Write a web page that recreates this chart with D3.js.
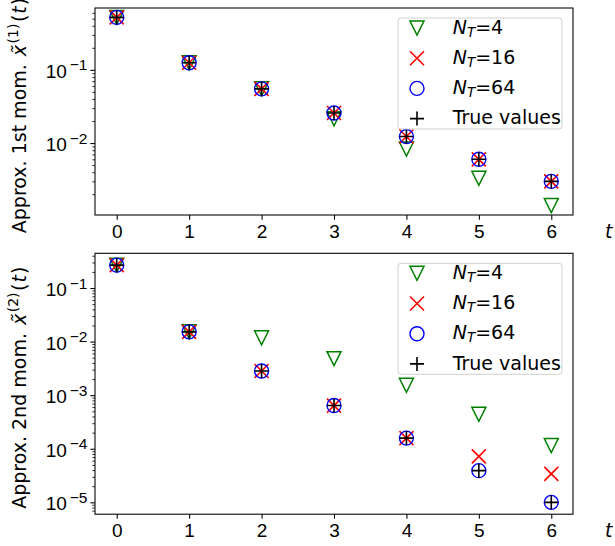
<!DOCTYPE html>
<html>
<head>
<meta charset="utf-8">
<script src="https://cdn.jsdelivr.net/npm/d3@7"></script>
<style>
  body { margin: 0; background: #fff; }
  svg { display: block; font-family: 'DejaVu Sans', sans-serif; }
  .tick line { stroke: #000; }
  .domain { display: none; }
</style>
</head>
<body>
<svg id="chart" width="615" height="546"></svg>
<script>
// Data
var times = [0, 1, 2, 3, 4, 5, 6];
var xTicks = [0, 1, 2, 3, 4, 5, 6];

// 1st moment
var nt4First = [0.52, 0.125, 0.055, 0.0215, 0.0083, 0.0033, 0.0014];
var nt16First = [0.52, 0.125, 0.055, 0.0257, 0.0123, 0.006, 0.003];
var nt64First = [0.52, 0.125, 0.055, 0.0257, 0.0123, 0.006, 0.003];
var trueFirst = [0.52, 0.125, 0.055, 0.0257, 0.0123, 0.006, 0.003];
var yTicksFirst = [1e-2, 1e-1];

// 2nd moment
var nt4Second = [0.267, 0.0152, 0.0118, 0.0048, 0.00153, 4.4e-4, 1.15e-4];
var nt16Second = [0.267, 0.0152, 0.00283, 6.4e-4, 1.58e-4, 7.2e-5, 3.4e-5];
var nt64Second = [0.267, 0.0152, 0.00283, 6.4e-4, 1.58e-4, 3.9e-5, 1.0e-5];
var trueSecond = [0.267, 0.0152, 0.00283, 6.4e-4, 1.58e-4, 3.9e-5, 1.0e-5];
var yTicksSecond = [1e-5, 1e-4, 1e-3, 1e-2, 1e-1];

var seriesNames = ['4', '16', '64', 'True values'];

var svg = d3.select('#chart');
var fontSize = 19;
var markerSize = 7;

// marker drawing
function drawMarker (g, kind) {
  var s = markerSize;
  if (kind === 'tri') {
    g.append('path')
      .attr('d', 'M' + (-s) + ',' + (-s) + 'L' + s + ',' + (-s) + 'L0,' + s + 'Z')
      .attr('fill', 'none').attr('stroke', '#008000').attr('stroke-width', 1.5);
  } else if (kind === 'x') {
    g.append('path')
      .attr('d', 'M' + (-s) + ',' + (-s) + 'L' + s + ',' + s + 'M' + (-s) + ',' + s + 'L' + s + ',' + (-s))
      .attr('fill', 'none').attr('stroke', '#ff0000').attr('stroke-width', 1.6);
  } else if (kind === 'circle') {
    g.append('circle').attr('r', s)
      .attr('fill', 'none').attr('stroke', '#0000ff').attr('stroke-width', 1.4);
  } else {
    g.append('path')
      .attr('d', 'M' + (-s) + ',0L' + s + ',0M0,' + (-s) + 'L0,' + s)
      .attr('fill', 'none').attr('stroke', '#000').attr('stroke-width', 1.6);
  }
}

function logDomain (arrays) {
  var all = d3.merge(arrays);
  var lo = Math.log10(d3.min(all));
  var hi = Math.log10(d3.max(all));
  var pad = (hi - lo) * 0.05;
  return [Math.pow(10, lo - pad), Math.pow(10, hi + pad)];
}

function supLabel (sel, v) {
  var e = Math.round(Math.log10(v));
  sel.text(null);
  sel.append('tspan').text('10');
  sel.append('tspan').attr('dx', 3).attr('dy', -7.5).attr('font-size', 15.5).text('\u2212' + Math.abs(e));
}

function panel (opts) {
  var x = d3.scaleLinear().domain([-0.3, 6.3]).range([opts.left, opts.right]);
  var y = d3.scaleLog().domain(logDomain(opts.series)).range([opts.bottom, opts.top]);

  var g = svg.append('g');

  // minor ticks
  var dom = y.domain();
  var minor = [];
  for (var p = Math.floor(Math.log10(dom[0])); p <= Math.ceil(Math.log10(dom[1])); p++) {
    for (var m = 2; m <= 9; m++) {
      var v = m * Math.pow(10, p);
      if (v >= dom[0] && v <= dom[1]) minor.push(v);
    }
  }
  g.append('g')
    .attr('transform', 'translate(' + opts.left + ',0)')
    .call(d3.axisLeft(y).tickValues(minor).tickSize(2.67).tickFormat(''))
    .selectAll('line').attr('stroke-width', 0.8);

  var ya = g.append('g')
    .attr('transform', 'translate(' + opts.left + ',0)')
    .call(d3.axisLeft(y).tickValues(opts.yTicks).tickSize(4.67).tickPadding(4));
  ya.selectAll('line').attr('stroke-width', 1.07);
  ya.selectAll('text')
    .attr('font-size', fontSize).attr('fill', '#000')
    .attr('dy', 7.5).attr('x', -7.5)
    .each(function (d) { supLabel(d3.select(this), d); });

  var xa = g.append('g')
    .attr('transform', 'translate(0,' + opts.bottom + ')')
    .call(d3.axisBottom(x).tickValues(xTicks).tickSize(4.67).tickFormat(d3.format('d')));
  xa.selectAll('line').attr('stroke-width', 1.07);
  xa.selectAll('text')
    .attr('font-size', fontSize).attr('fill', '#000')
    .attr('dy', null).attr('y', 23);

  // spines
  g.append('rect')
    .attr('x', opts.left).attr('y', opts.top)
    .attr('width', opts.right - opts.left).attr('height', opts.bottom - opts.top)
    .attr('fill', 'none').attr('stroke', '#000').attr('stroke-width', 1.07);

  // points
  var kinds = ['tri', 'x', 'circle', 'plus'];
  opts.series.forEach(function (vals, si) {
    g.append('g').selectAll('g')
      .data(vals)
      .enter().append('g')
      .attr('transform', function (d, i) { return 'translate(' + x(times[i]) + ',' + y(d) + ')'; })
      .each(function () { drawMarker(d3.select(this), kinds[si]); });
  });

  // t label
  g.append('text')
    .attr('x', 605).attr('y', opts.bottom + 23)
    .attr('font-size', fontSize).attr('font-style', 'italic')
    .text('t');

  // y label
  var yl = g.append('text')
    .attr('transform', 'translate(25.5,' + ((opts.top + opts.bottom) / 2 + 4) + ') rotate(-90)')
    .attr('text-anchor', 'middle')
    .attr('font-size', fontSize);
  yl.append('tspan').text('Approx. ' + opts.label + ' mom. ');
  yl.append('tspan').attr('font-style', 'italic').attr('dx', 2).text('x\u0303');
  yl.append('tspan').attr('dx', 1.5).attr('dy', -8).attr('font-size', 14).text('(' + opts.order + ')');
  yl.append('tspan').attr('dx', 1.5).attr('dy', 8).text('(');
  yl.append('tspan').attr('font-style', 'italic').attr('dx', 1).text('t');
  yl.append('tspan').attr('dx', 1).text(')');

  // legend
  var lg = g.append('g').attr('transform', 'translate(398,' + opts.legendTop + ')');
  lg.append('rect')
    .attr('width', 164).attr('height', 111).attr('rx', 3)
    .attr('fill', '#fff').attr('fill-opacity', 0.8)
    .attr('stroke', '#d0d0d0').attr('stroke-width', 1);
  seriesNames.forEach(function (name, i) {
    var ry = 10 + i * 30.2;
    var mg = lg.append('g').attr('transform', 'translate(19,' + ry + ')');
    drawMarker(mg, kinds[i]);
    var t = lg.append('text').attr('x', 54.7).attr('y', ry + 5.8).attr('font-size', fontSize);
    if (i < 3) {
      t.append('tspan').attr('font-style', 'italic').text('N');
      t.append('tspan').attr('font-style', 'italic').attr('font-size', 13.5).attr('dy', 3).text('T');
      t.append('tspan').attr('dy', -3).text('=' + name);
    } else {
      t.text(name);
    }
  });
}

panel({
  left: 95, right: 573, top: 8, bottom: 215,
  series: [nt4First, nt16First, nt64First, trueFirst],
  yTicks: yTicksFirst, label: '1st', order: 1, legendTop: 18
});

panel({
  left: 95, right: 573, top: 253.3, bottom: 514.2,
  series: [nt4Second, nt16Second, nt64Second, trueSecond],
  yTicks: yTicksSecond, label: '2nd', order: 2, legendTop: 263.3
});
</script>
</body>
</html>
